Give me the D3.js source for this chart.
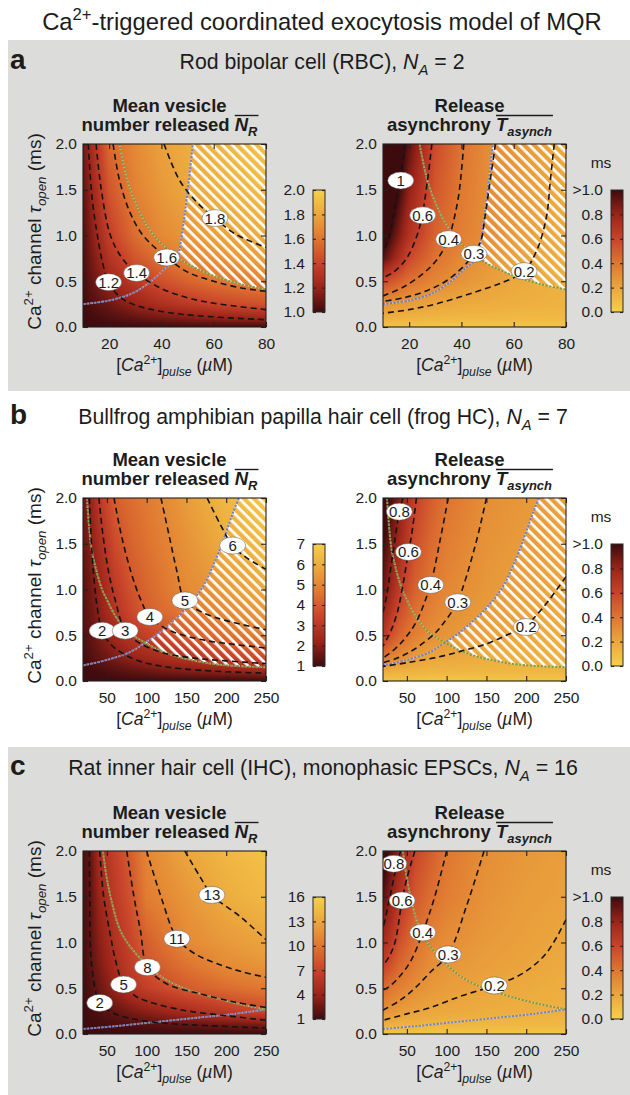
<!DOCTYPE html>
<html><head><meta charset="utf-8">
<script src="https://cdn.jsdelivr.net/npm/d3@7"></script>
<style>body{margin:0;background:#fff}svg{display:block}</style>
</head><body><svg id="fig" width="630" height="1095"></svg>
<script>
// ================= DATA =================
const titleParts = [{t:"Ca"},{t:"2+",sup:1},{t:"-triggered coordinated exocytosis model of MQR"}];
const aHeader = [{t:"Rod bipolar cell (RBC), "},{t:"N",i:1},{t:"A",i:1,sub:1},{t:" = 2"}];
const bHeader = [{t:"Bullfrog amphibian papilla hair cell (frog HC), "},{t:"N",i:1},{t:"A",i:1,sub:1},{t:" = 7"}];
const cHeader = [{t:"Rat inner hair cell (IHC), monophasic EPSCs, "},{t:"N",i:1},{t:"A",i:1,sub:1},{t:" = 16"}];

const tauTicks = [0, 0.5, 1.0, 1.5, 2.0];
const aCaTicks = [20, 40, 60, 80];
const bcCaTicks = [50, 100, 150, 200, 250];
const tauRows = [0, 0.1, 0.25, 0.5, 0.75, 1.0, 1.5, 2.0];
const aCaCols = [10, 20, 30, 40, 50, 60, 70, 80];
const bcCaCols = [20, 30, 40, 60, 80, 100, 150, 200, 250];

const aNRTicks = [1.0, 1.2, 1.4, 1.6, 1.8, 2.0];
const bNRTicks = [1, 2, 3, 4, 5, 6, 7];
const cNRTicks = [1, 4, 7, 10, 13, 16];
const tTicks = [0, 0.2, 0.4, 0.6, 0.8, 1.0];
const tTickLabels = ["0.0", "0.2", "0.4", "0.6", "0.8", ">1.0"];

// ---- panel a (RBC) ----
const aNR = [
 [1.00,1.00,1.00,1.00,1.01,1.01,1.01,1.01],
 [1.00,1.04,1.08,1.12,1.15,1.18,1.20,1.22],
 [1.01,1.10,1.20,1.28,1.34,1.39,1.43,1.46],
 [1.02,1.21,1.34,1.45,1.53,1.59,1.63,1.66],
 [1.03,1.30,1.47,1.59,1.66,1.71,1.75,1.78],
 [1.04,1.37,1.57,1.68,1.74,1.78,1.81,1.83],
 [1.07,1.47,1.65,1.74,1.81,1.85,1.88,1.90],
 [1.10,1.55,1.68,1.78,1.83,1.87,1.90,1.92]];
const aNRLines = [
 [[12,2.0],[13.5,1.4],[15.5,1.0],[17.5,0.7],[19.6,0.5],[24,0.33],[30,0.24],[40,0.17],[55,0.12],[80,0.08]],
 [[15,2.0],[17,1.5],[20.5,1.0],[25,0.75],[30.5,0.59],[40,0.42],[50,0.32],[60,0.26],[80,0.19]],
 [[21.5,2.0],[24,1.6],[28,1.25],[33,1.0],[42,0.76],[50,0.6],[60,0.5],[70,0.43],[80,0.39]],
 [[41,2.0],[47,1.6],[54,1.35],[60.5,1.19],[68,1.02],[80,0.87]]];
const aNRLabels = [[19.8,0.49,"1.2"],[30.5,0.59,"1.4"],[42,0.76,"1.6"],[60.5,1.19,"1.8"]];

const aT = [
 [0.06,0.06,0.05,0.05,0.05,0.05,0.05,0.05],
 [0.16,0.14,0.13,0.12,0.12,0.11,0.11,0.11],
 [0.28,0.24,0.20,0.18,0.17,0.16,0.15,0.14],
 [0.58,0.42,0.33,0.28,0.23,0.19,0.17,0.15],
 [0.95,0.58,0.41,0.32,0.27,0.22,0.19,0.16],
 [1.10,0.70,0.47,0.36,0.295,0.25,0.205,0.17],
 [1.30,0.82,0.52,0.39,0.305,0.26,0.215,0.175],
 [1.40,0.93,0.57,0.41,0.31,0.27,0.23,0.18]];
const aTLines = [
 [[18.5,2.0],[16.6,1.61],[14.5,1.3],[12.5,1.0],[10,0.8]],
 [[28.7,2.0],[27,1.6],[25,1.22],[23,1.0],[19,0.75],[14,0.6],[10,0.54]],
 [[40.9,2.0],[39,1.45],[36.5,1.1],[35,0.96],[31,0.75],[26,0.6],[18,0.44],[10,0.34]],
 [[53,2.0],[51,1.6],[49,1.2],[47.5,0.95],[44.8,0.8],[40,0.64],[34,0.5],[27,0.4],[18,0.32],[10,0.28]],
 [[75.5,2.0],[74,1.6],[72.5,1.2],[69,0.85],[64,0.61],[56,0.49],[45,0.38],[30,0.25],[20,0.19],[10,0.15]]];
const aTLabels = [[16.8,1.6,"1"],[25.2,1.22,"0.6"],[35.1,0.96,"0.4"],[44.8,0.8,"0.3"],[64,0.61,"0.2"]];

const aBlue = [[10,0.25],[20,0.29],[29,0.37],[36,0.5],[41,0.63],[46,0.76],[47.5,0.95],[49,1.25],[50.5,1.6],[52,2.0]];
const aGreen = [[24,2.0],[27,1.6],[30.5,1.33],[34,1.13],[38,0.97],[42,0.86],[46,0.76],[52,0.66],[60,0.56],[70,0.47],[80,0.41]];
const aHatch = [[46,0.76],[47.5,0.95],[49,1.25],[50.5,1.6],[52,2.0],[80,2.0],[80,0.41],[70,0.47],[60,0.56],[52,0.66]];

// ---- panel b (frog HC) ----
const bNR = [
 [1.00,1.00,1.00,1.00,1.00,1.00,1.00,1.00,1.00],
 [1.02,1.05,1.10,1.25,1.40,1.55,1.85,2.05,2.25],
 [1.10,1.25,1.45,1.80,2.10,2.35,2.85,3.25,3.55],
 [1.20,1.45,1.80,2.40,2.95,3.30,4.00,4.50,4.85],
 [1.30,1.60,2.00,2.80,3.45,4.05,4.70,5.10,5.40],
 [1.35,1.70,2.10,3.05,3.75,4.20,5.10,5.50,5.90],
 [1.50,1.95,2.55,3.55,4.15,4.50,5.30,6.00,6.40],
 [1.60,2.15,3.00,4.05,4.40,4.70,5.55,6.30,6.70]];
const bNRLines = [
 [[28,2.0],[30,1.6],[33,1.2],[38,0.8],[44,0.55],[55,0.4],[70,0.3],[90,0.22],[120,0.16],[170,0.115],[250,0.085]],
 [[40,2.0],[45,1.6],[52,1.2],[60,0.9],[73,0.55],[90,0.42],[120,0.31],[160,0.25],[200,0.22],[250,0.19]],
 [[59,2.0],[68,1.6],[80,1.2],[92,0.9],[104,0.7],[130,0.55],[170,0.45],[210,0.4],[250,0.36]],
 [[118,2.0],[128,1.6],[138,1.2],[148,0.88],[170,0.75],[200,0.66],[250,0.56]],
 [[176,2.0],[192,1.72],[208,1.48],[225,1.35],[250,1.22]]];
const bNRLabels = [[44,0.55,"2"],[73,0.55,"3"],[104,0.70,"4"],[148,0.88,"5"],[208,1.48,"6"]];

const bT = [
 [0.06,0.06,0.06,0.06,0.05,0.05,0.05,0.05,0.05],
 [0.16,0.155,0.15,0.14,0.13,0.13,0.12,0.12,0.12],
 [0.40,0.34,0.30,0.24,0.20,0.19,0.17,0.16,0.15],
 [0.68,0.56,0.47,0.36,0.30,0.27,0.22,0.185,0.17],
 [0.80,0.68,0.56,0.42,0.35,0.30,0.24,0.205,0.185],
 [0.90,0.77,0.65,0.48,0.39,0.33,0.26,0.22,0.195],
 [1.00,0.88,0.77,0.56,0.45,0.37,0.28,0.24,0.21],
 [1.10,0.97,0.85,0.62,0.50,0.41,0.30,0.26,0.22]];
const bTLines = [
 [[45,2.0],[40.5,1.85],[35,1.55],[30,1.25],[25,0.95],[20,0.75]],
 [[62,2.0],[56,1.6],[52,1.41],[45,1.05],[38,0.75],[30,0.55],[20,0.38]],
 [[102,2.0],[92,1.55],[79.5,1.05],[62,0.65],[48,0.47],[35,0.35],[20,0.25]],
 [[150,2.0],[135,1.45],[113,0.86],[95,0.62],[85,0.52],[65,0.38],[50,0.3],[35,0.24],[20,0.2]],
 [[250,1.14],[230,0.9],[214,0.73],[199,0.6],[175,0.5],[151,0.41],[120,0.33],[88,0.26],[50,0.2],[20,0.16]]];
const bTLabels = [[40.5,1.85,"0.8"],[52,1.41,"0.6"],[80,1.05,"0.4"],[114,0.86,"0.3"],[200,0.59,"0.2"]];

const bBlue = [[20,0.17],[50,0.23],[80,0.32],[98,0.42],[115,0.52],[130,0.63],[146,0.76],[160,0.9],[172,1.05],[183,1.25],[193,1.46],[202,1.68],[209,1.85],[216,2.0]];
const bGreen = [[25,2.0],[28,1.65],[31,1.43],[37,1.2],[44,1.0],[50,0.89],[60,0.72],[70,0.6],[79,0.52],[88,0.47],[98,0.42],[115,0.34],[130,0.29],[151,0.24],[190,0.18],[250,0.15]];
const bHatch = [[98,0.42],[115,0.52],[130,0.63],[146,0.76],[160,0.9],[172,1.05],[183,1.25],[193,1.46],[202,1.68],[209,1.85],[216,2.0],[250,2.0],[250,0.15],[190,0.18],[151,0.24],[130,0.29],[115,0.34]];

// ---- panel c (rat IHC) ----
const cNR = [
 [1,1,1,1,1,1,1,1,1],
 [1.0,1.1,1.2,1.4,1.6,1.75,2.2,2.6,2.9],
 [1.05,1.3,1.6,2.2,2.9,3.6,4.9,6.2,7.4],
 [1.15,1.7,2.4,4.0,5.5,6.6,8.4,9.4,10.2],
 [1.25,2.0,3.0,4.8,6.4,8.0,9.8,11.3,12.0],
 [1.3,2.1,3.4,5.3,7.0,8.6,11.2,12.2,12.9],
 [1.4,2.2,4.0,6.2,7.85,10.4,12.0,13.5,14.3],
 [1.5,2.3,4.8,6.7,8.6,11.0,13.05,14.2,15.0]];
const cNRLines = [
 [[28,2.0],[28.5,1.5],[29,1.0],[31,0.75],[35,0.5],[41,0.34],[55,0.24],[80,0.17],[120,0.12],[180,0.09],[250,0.065]],
 [[41,2.0],[46,1.5],[54,1.1],[61,0.8],[71,0.54],[85,0.42],[100,0.36],[146,0.26],[200,0.2],[250,0.15]],
 [[75,2.0],[84,1.5],[92,1.14],[101,0.73],[125,0.55],[167,0.44],[210,0.35],[250,0.29]],
 [[100,2.0],[118,1.5],[138,1.05],[160,0.88],[188,0.77],[220,0.68],[250,0.62]],
 [[148,2.0],[167,1.72],[182,1.52],[218,1.28],[250,1.03]]];
const cNRLabels = [[41,0.34,"2"],[71,0.54,"5"],[101,0.73,"8"],[138,1.04,"11"],[182,1.52,"13"]];

const cT = [
 [0.07,0.06,0.06,0.06,0.05,0.05,0.05,0.05,0.05],
 [0.16,0.15,0.14,0.14,0.13,0.13,0.12,0.12,0.11],
 [0.29,0.27,0.25,0.22,0.20,0.19,0.17,0.16,0.15],
 [0.45,0.40,0.36,0.30,0.26,0.24,0.20,0.18,0.16],
 [0.62,0.54,0.46,0.37,0.30,0.27,0.23,0.205,0.18],
 [0.75,0.66,0.55,0.42,0.35,0.30,0.25,0.22,0.195],
 [0.95,0.82,0.70,0.52,0.43,0.37,0.28,0.24,0.22],
 [1.10,0.95,0.83,0.60,0.50,0.40,0.30,0.26,0.23]];
const cTLines = [
 [[42,2.0],[36,1.8],[30,1.55],[25,1.35],[20,1.15]],
 [[60,2.0],[50,1.7],[44,1.46],[35,1.0],[28,0.85],[20,0.75]],
 [[100,2.0],[85,1.5],[70,1.11],[55,0.8],[40,0.62],[28,0.52],[20,0.48]],
 [[147,2.0],[125,1.4],[102,0.87],[80,0.68],[60,0.5],[40,0.36],[20,0.26]],
 [[250,1.25],[225,0.88],[195,0.66],[160,0.53],[120,0.42],[80,0.29],[50,0.22],[20,0.15]]];
const cTLabels = [[33.6,1.86,"0.8"],[44,1.46,"0.6"],[70,1.11,"0.4"],[102,0.87,"0.3"],[160,0.53,"0.2"]];

const cBlue = [[20,0.055],[60,0.085],[110,0.13],[160,0.175],[210,0.22],[250,0.27]];
const cGreen = [[45,2.0],[50,1.7],[56,1.45],[66,1.15],[78,0.97],[95,0.8],[110,0.68],[125,0.59],[150,0.49],[188,0.39],[220,0.32],[250,0.27]];

// ================= STYLE / LAYOUT =================
const FONT = "'Liberation Sans', Arial, Helvetica, sans-serif";
const INK = "#1c1c1c";
const BG = "#dcdcdb";
const cmapStops = ["#3d0b0e", "#9a2419", "#c8432a", "#df7631", "#eba63d", "#f6d04a"];
const PW = 183, PH = 183;
const LX = 83, RX = 383, CBL = 313, CBR = 611, CBW = 12;

const svg = d3.select("#fig").attr("font-family", FONT);
const defs = svg.append("defs");
svg.append("rect").attr("width", 630).attr("height", 1095).attr("fill", "#fff");

// colour LUT
const cscale = d3.scaleLinear().domain([0, 0.2, 0.4, 0.6, 0.8, 1]).range(cmapStops).interpolate(d3.interpolateRgb).clamp(true);
const LUT = d3.range(256).map(k => d3.rgb(cscale(k / 255)));
const lutColor = p => LUT[Math.round(Math.max(0, Math.min(1, p)) * 255)];

// hatch pattern
const pat = defs.append("pattern").attr("id", "hatch").attr("patternUnits", "userSpaceOnUse")
  .attr("width", 7).attr("height", 7).attr("patternTransform", "rotate(45)");
pat.append("rect").attr("x", 0).attr("y", 0).attr("width", 7).attr("height", 2.7).attr("fill", "#fff");

function rich(sel, parts, fs) {
  let shift = 0;
  parts.forEach(p => {
    const s = p.sup ? -0.4 * fs : p.sub ? 0.27 * fs : 0;
    const ts = sel.append("tspan").text(p.t).attr("dy", s - shift);
    shift = s;
    if (p.sup || p.sub) ts.attr("font-size", (fs * 0.7) + "px");
    if (p.i) ts.attr("font-style", "italic");
    if (p.b) ts.attr("font-weight", "bold");
  });
}
function richText(g, x, y, parts, fs, opts = {}) {
  const t = g.append("text").attr("x", x).attr("y", y).attr("fill", INK)
    .attr("text-anchor", opts.anchor || "middle").attr("font-size", fs + "px");
  if (opts.bold) t.attr("font-weight", "bold");
  if (opts.transform) t.attr("transform", opts.transform);
  rich(t, parts, fs);
  if (opts.fitW) {
    const w = t.node().getComputedTextLength();
    const nfs = fs * opts.fitW / w;
    t.selectAll("tspan").remove();
    t.attr("font-size", nfs + "px");
    rich(t, parts, nfs);
    t.__fs = nfs;
  }
  return t;
}

function bil(cols, rows, z, xv, yv) {
  let i = d3.bisectRight(cols, xv) - 1; i = Math.max(0, Math.min(cols.length - 2, i));
  let j = d3.bisectRight(rows, yv) - 1; j = Math.max(0, Math.min(rows.length - 2, j));
  const tx = Math.max(0, Math.min(1, (xv - cols[i]) / (cols[i + 1] - cols[i])));
  const ty = Math.max(0, Math.min(1, (yv - rows[j]) / (rows[j + 1] - rows[j])));
  return (z[j][i] * (1 - tx) + z[j][i + 1] * tx) * (1 - ty) + (z[j + 1][i] * (1 - tx) + z[j + 1][i + 1] * tx) * ty;
}

let uid = 0;
function drawPlot(g, P) {
  const id = "p" + (uid++);
  const x = d3.scaleLinear().domain(P.xdom).range([P.left, P.left + PW]);
  const y = d3.scaleLinear().domain([0, 2]).range([P.top + PH, P.top]);
  const toPos = P.kind === "N" ? (v => (v - P.zmin) / (P.zmax - P.zmin)) : (v => 1 - Math.min(v, 1));

  defs.append("clipPath").attr("id", "clip" + id).append("rect")
    .attr("x", P.left).attr("y", P.top).attr("width", PW).attr("height", PH);

  // heat map
  const cv = document.createElement("canvas"); cv.width = PW; cv.height = PH;
  const ctx = cv.getContext("2d"); const im = ctx.createImageData(PW, PH);
  for (let j = 0; j < PH; j++) {
    const yv = y.invert(P.top + j + 0.5);
    for (let i = 0; i < PW; i++) {
      const xv = x.invert(P.left + i + 0.5);
      const c = lutColor(toPos(bil(P.cols, tauRows, P.z, xv, yv)));
      const k = (j * PW + i) * 4;
      im.data[k] = c.r; im.data[k + 1] = c.g; im.data[k + 2] = c.b; im.data[k + 3] = 255;
    }
  }
  ctx.putImageData(im, 0, 0);
  const inner = g.append("g").attr("clip-path", `url(#clip${id})`);
  inner.append("image").attr("x", P.left).attr("y", P.top).attr("width", PW).attr("height", PH)
    .attr("preserveAspectRatio", "none").attr("href", cv.toDataURL());

  const lineC = d3.line().x(d => x(d[0])).y(d => y(d[1])).curve(d3.curveCatmullRom.alpha(0.5));
  const lineL = d3.line().x(d => x(d[0])).y(d => y(d[1])).curve(d3.curveLinearClosed);

  if (P.hatch) inner.append("path").attr("d", lineL(P.hatch)).attr("fill", "url(#hatch)");

  // boundary dotted lines
  [[P.blue, "#7082c8"], [P.green, "#7e9c44"]].forEach(([pts, col]) => {
    if (!pts) return;
    inner.append("path").attr("d", lineC(pts)).attr("fill", "none").attr("stroke", "#fff")
      .attr("stroke-width", 1.8).attr("stroke-dasharray", "1.4,2.2").attr("stroke-dashoffset", 2.2).attr("opacity", 0.6);
    inner.append("path").attr("d", lineC(pts)).attr("fill", "none").attr("stroke", col)
      .attr("stroke-width", 2).attr("stroke-dasharray", "2.2,1.4");
  });

  // contour lines
  P.lines.forEach(pts => {
    inner.append("path").attr("d", lineC(pts)).attr("fill", "none").attr("stroke", "#141414")
      .attr("stroke-width", 1.6).attr("stroke-dasharray", "6,4");
  });

  // labels
  P.labels.forEach(([lx, ly, txt]) => {
    inner.append("ellipse").attr("cx", x(lx)).attr("cy", y(ly)).attr("rx", 13).attr("ry", 8.5)
      .attr("fill", "#fff").attr("stroke", "#555").attr("stroke-width", 0.5);
    inner.append("text").attr("x", x(lx)).attr("y", y(ly)).attr("dy", "0.36em").attr("text-anchor", "middle")
      .attr("font-size", "15px").attr("fill", INK).text(txt);
  });

  // axes
  const styleAx = sel => {
    sel.select(".domain").remove();
    sel.attr("font-size", null).attr("font-family", null);
    sel.selectAll("line").attr("stroke", "#222").attr("stroke-width", 1.1);
    sel.selectAll("text").attr("font-size", "15.5px").attr("fill", INK);
  };
  g.append("g").attr("transform", `translate(0,${P.top + PH})`)
    .call(d3.axisBottom(x).tickValues(P.xticks).tickSize(-5).tickPadding(11).tickFormat(d3.format("d"))).call(styleAx);
  g.append("g").attr("transform", `translate(0,${P.top})`)
    .call(d3.axisTop(x).tickValues(P.xticks).tickSize(-5).tickFormat("")).call(styleAx);
  g.append("g").attr("transform", `translate(${P.left},0)`)
    .call(d3.axisLeft(y).tickValues(tauTicks).tickSize(-5).tickPadding(6).tickFormat(d3.format(".1f"))).call(styleAx);
  g.append("g").attr("transform", `translate(${P.left + PW},0)`)
    .call(d3.axisRight(y).tickValues(tauTicks).tickSize(-5).tickFormat("")).call(styleAx);
  g.append("rect").attr("x", P.left).attr("y", P.top).attr("width", PW).attr("height", PH)
    .attr("fill", "none").attr("stroke", "#222").attr("stroke-width", 1.1);

  // x axis title
  richText(g, P.left + PW / 2, P.top + PH + 44,
    [{t:"["},{t:"Ca",i:1},{t:"2+",sup:1},{t:"]"},{t:"pulse",i:1,sub:1},{t:" ("},{t:"\u00b5",i:1},{t:"M)"}], 17.5);

  // subplot title
  const tcx = P.left + PW / 2 - 5;
  richText(g, tcx, P.top - 32, [{t: P.kind === "N" ? "Mean vesicle" : "Release"}], 18.5, {bold: 1});
  const l2 = P.kind === "N" ? [{t:"number released "},{t:"N",i:1},{t:"R",i:1,sub:1}]
                            : [{t:"asynchrony "},{t:"T",i:1},{t:"asynch",i:1,sub:1}];
  const t2 = richText(g, tcx, P.top - 13, l2, 18.5, {bold: 1});
  const n0 = l2[0].t.length, nAll = n0 + l2[1].t.length + l2[2].t.length;
  const xs = t2.node().getStartPositionOfChar(n0).x, xe = t2.node().getEndPositionOfChar(nAll - 1).x;
  g.append("line").attr("x1", xs).attr("x2", xe + 1).attr("y1", P.top - 28.5).attr("y2", P.top - 28.5)
    .attr("stroke", INK).attr("stroke-width", 1.4);

  // y title (left plots only)
  if (P.ytitle) {
    const cy = P.top + PH / 2;
    richText(g, 0, 0, [{t:"Ca"},{t:"2+",sup:1},{t:" channel "},{t:"\u03c4",i:1},{t:"open",i:1,sub:1},{t:" (ms)"}], 19,
      {transform: `translate(41,${cy - 4}) rotate(-90)`});
  }

  // colour bar
  const cbX = P.kind === "N" ? CBL : CBR;
  const cbTop = P.top + 46, cbH = 122;
  const gid = "g" + id;
  const grad = defs.append("linearGradient").attr("id", gid).attr("x1", 0).attr("y1", 0).attr("x2", 0).attr("y2", 1);
  d3.range(0, 41).forEach(k => {
    const o = k / 40;
    const c = lutColor(P.kind === "N" ? 1 - o : o);
    grad.append("stop").attr("offset", o).attr("stop-color", c.formatHex());
  });
  g.append("rect").attr("x", cbX).attr("y", cbTop).attr("width", CBW).attr("height", cbH).attr("fill", `url(#${gid})`);
  const cys = d3.scaleLinear().domain(P.kind === "N" ? [P.zmin, P.zmax] : [0, 1]).range([cbTop + cbH, cbTop]);
  const fmt = P.kind === "N" ? (P.zmax <= 2 ? d3.format(".1f") : d3.format("d")) : ((d, i) => tTickLabels[i]);
  g.append("g").attr("transform", `translate(${cbX},0)`)
    .call(d3.axisLeft(cys).tickValues(P.cbTicks).tickSize(-3).tickPadding(8).tickFormat(fmt)).call(styleAx);
  g.append("g").attr("transform", `translate(${cbX + CBW},0)`)
    .call(d3.axisRight(cys).tickValues(P.cbTicks).tickSize(-3).tickFormat("")).call(styleAx);
  g.append("rect").attr("x", cbX).attr("y", cbTop).attr("width", CBW).attr("height", cbH)
    .attr("fill", "none").attr("stroke", "#2a2a2a").attr("stroke-width", 1);
  if (P.kind === "T") {
    g.append("text").attr("x", cbX - 10).attr("y", P.top + 24).attr("text-anchor", "middle")
      .attr("font-size", "15.5px").attr("fill", INK).text("ms");
  }
}

// ================= BUILD =================
richText(svg, 322, 30, titleParts, 22, {fitW: 560});

const panels = [
  {letter: "a", top: 144, hb: 69, header: aHeader, bg: [40, 391], xdom: [10, 80], xticks: aCaTicks, cols: aCaCols,
   NR: aNR, NRL: aNRLines, NRLab: aNRLabels, zmax: 2, cbTicks: aNRTicks, T: aT, TL: aTLines, TLab: aTLabels,
   blue: aBlue, green: aGreen, hatch: aHatch},
  {letter: "b", top: 498, hb: 424, header: bHeader, bg: null, xdom: [20, 250], xticks: bcCaTicks, cols: bcCaCols,
   NR: bNR, NRL: bNRLines, NRLab: bNRLabels, zmax: 7, cbTicks: bNRTicks, T: bT, TL: bTLines, TLab: bTLabels,
   blue: bBlue, green: bGreen, hatch: bHatch},
  {letter: "c", top: 851, hb: 775, header: cHeader, bg: [747, 1095], xdom: [20, 250], xticks: bcCaTicks, cols: bcCaCols,
   NR: cNR, NRL: cNRLines, NRLab: cNRLabels, zmax: 16, cbTicks: cNRTicks, T: cT, TL: cTLines, TLab: cTLabels,
   blue: cBlue, green: cGreen, hatch: null}
];

let headerFs = null;
const fitW = {b: 490, c: 510};
panels.forEach(p => {
  const g = svg.append("g");
  if (p.bg) g.append("rect").attr("x", 8).attr("y", p.bg[0]).attr("width", 622).attr("height", p.bg[1] - p.bg[0]).attr("fill", BG);
  g.append("text").attr("x", 10).attr("y", p.hb).attr("font-size", "28px").attr("font-weight", "bold")
    .attr("fill", INK).text(p.letter);
  if (p.letter === "a") {
    const tmp = richText(g, -1000, -1000, bHeader, 20, {fitW: fitW.b});
    headerFs = tmp.__fs; tmp.remove();
    richText(g, 322, p.hb, p.header, headerFs);
  } else {
    richText(g, 323, p.hb, p.header, 20, {fitW: fitW[p.letter]});
  }
  drawPlot(g, {left: LX, top: p.top, xdom: p.xdom, xticks: p.xticks, cols: p.cols, z: p.NR, kind: "N", zmin: 1, zmax: p.zmax,
    lines: p.NRL, labels: p.NRLab, blue: p.blue, green: p.green, hatch: p.hatch, cbTicks: p.cbTicks, ytitle: true});
  drawPlot(g, {left: RX, top: p.top, xdom: p.xdom, xticks: p.xticks, cols: p.cols, z: p.T, kind: "T",
    lines: p.TL, labels: p.TLab, blue: p.blue, green: p.green, hatch: p.hatch, cbTicks: tTicks, ytitle: false});
});
</script></body></html>
